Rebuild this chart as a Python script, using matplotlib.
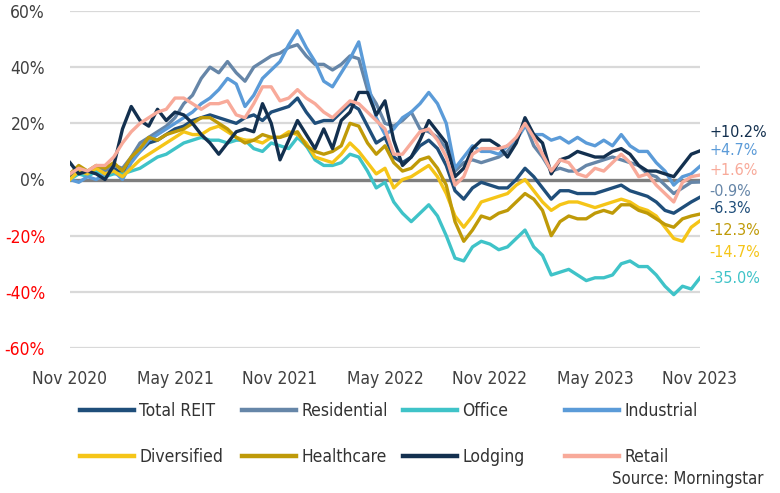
import numpy as np
import matplotlib
matplotlib.use("Agg")
import matplotlib.pyplot as plt
from matplotlib.lines import Line2D

plt.rcParams["font.family"] = ["DejaVu Sans"]
plt.rcParams["font.stretch"] = "condensed"

# ── Data: cumulative return (%) sampled every half month, Nov 2020 - Nov 2023 ──
tick_labels = ["Nov 2020", "May 2021", "Nov 2021", "May 2022",
               "Nov 2022", "May 2023", "Nov 2023"]

total_reit = [1, 3, 2, 4, 3, 4, 2, 7, 10, 13, 14, 16, 18, 19, 21, 22, 23, 22, 21, 20,
              22, 23, 21, 24, 25, 26, 29, 24, 20, 21, 21, 24, 27, 25, 19, 13, 15, 8, 6, 8,
              12, 14, 11, 5, -4, -7, -3, -1, -2, -3, -3, 0, 4, 1, -3, -7, -4, -4, -5, -5,
              -5, -4, -3, -2, -4, -5, -6, -8, -11, -12, -10, -8, -6.3]
residential = [0, 3, 2, 4, 3, 5, 4, 8, 13, 15, 17, 19, 22, 27, 30, 36, 40, 38, 42, 38,
               35, 40, 42, 44, 45, 47, 48, 44, 41, 41, 39, 41, 44, 43, 32, 27, 20, 19, 21, 24,
               18, 17, 15, 11, 3, 6, 7, 6, 7, 8, 10, 14, 20, 12, 8, 3, 4, 3, 3, 5,
               6, 7, 8, 7, 6, 5, 2, 1, -2, -5, -3, -1, -0.9]
office = [0, 2, 1, 3, 1, 2, 2, 3, 4, 6, 8, 9, 11, 13, 14, 15, 14, 14, 13, 14,
          14, 11, 10, 13, 12, 11, 15, 12, 7, 5, 5, 6, 9, 8, 3, -3, -1, -8, -12, -15,
          -12, -9, -13, -20, -28, -29, -24, -22, -23, -25, -24, -21, -18, -24, -27, -34, -33, -32, -34, -36,
          -35, -35, -34, -30, -29, -31, -31, -34, -38, -41, -38, -39, -35.0]
industrial = [0, -1, 1, 0, 2, 3, 0, 6, 10, 14, 16, 18, 20, 22, 24, 27, 29, 32, 36, 34,
              26, 30, 36, 39, 42, 48, 53, 47, 42, 35, 33, 38, 43, 49, 35, 22, 16, 18, 22, 24,
              27, 31, 27, 20, 4, 8, 12, 10, 10, 9, 12, 14, 19, 16, 16, 14, 15, 13, 15, 13,
              12, 14, 12, 16, 12, 10, 10, 6, 3, -2, 1, 2, 4.7]
diversified = [0, 3, 2, 4, 2, 3, 1, 4, 7, 9, 11, 13, 15, 17, 16, 16, 18, 19, 17, 15,
               14, 14, 13, 15, 15, 17, 16, 13, 8, 7, 6, 9, 13, 10, 6, 2, 4, -3, 0, 1,
               3, 5, 1, -5, -13, -17, -13, -8, -7, -6, -5, -2, 0, -4, -8, -11, -9, -8, -8, -9,
               -10, -9, -8, -7, -8, -10, -11, -13, -17, -21, -22, -17, -14.7]
healthcare = [2, 5, 3, 5, 4, 6, 3, 8, 11, 15, 14, 16, 17, 18, 20, 22, 22, 20, 18, 15,
              13, 14, 16, 15, 15, 16, 17, 12, 10, 9, 10, 12, 20, 19, 13, 9, 12, 6, 3, 4,
              7, 8, 4, -2, -15, -22, -18, -13, -14, -12, -11, -8, -5, -7, -11, -20, -15, -13, -14, -14,
              -12, -11, -12, -9, -9, -11, -12, -14, -16, -17, -14, -13, -12.3]
lodging = [6, 2, 3, 2, 0, 5, 18, 26, 21, 19, 25, 21, 24, 23, 20, 16, 13, 9, 13, 17,
           18, 17, 27, 20, 7, 14, 21, 16, 11, 18, 11, 21, 24, 31, 31, 23, 28, 14, 5, 8,
           14, 21, 17, 13, 1, 4, 11, 14, 14, 12, 8, 13, 22, 16, 13, 2, 7, 8, 10, 9,
           8, 8, 10, 11, 9, 5, 3, 3, 2, 1, 5, 9, 10.2]
retail = [2, 4, 3, 5, 5, 8, 13, 17, 20, 22, 24, 25, 29, 29, 27, 25, 27, 27, 28, 23,
          22, 27, 33, 33, 28, 29, 32, 29, 27, 24, 22, 25, 28, 27, 24, 21, 18, 9, 9, 13,
          17, 18, 14, 8, -2, 1, 9, 11, 11, 11, 12, 15, 20, 15, 9, 3, 7, 6, 2, 1,
          4, 3, 6, 9, 6, 1, 2, -2, -5, -8, -1, 1, 1.6]

names = ["Total REIT", "Residential", "Office", "Industrial",
         "Diversified", "Healthcare", "Lodging", "Retail"]
series = [total_reit, residential, office, industrial,
          diversified, healthcare, lodging, retail]
colors = ["#1f4e7a", "#6686a8", "#3fc3c8", "#5b9bd8",
          "#f5c518", "#bf9a08", "#13304f", "#f8aa9a"]

# end-label placement (y in %, spread so labels don't collide), in stacking order
label_order = ["Lodging", "Industrial", "Retail", "Residential",
               "Total REIT", "Healthcare", "Diversified", "Office"]
label_y = [16.8, 10.3, 3.2, -4.4, -10.5, -18.1, -26.0, -35.2]

months = np.arange(len(total_reit)) * 0.5

fig = plt.figure(figsize=(7.8, 4.93), dpi=100)
ax = fig.add_axes([70 / 780, 1 - 348 / 493, 630 / 780, 337 / 493])

for v in [-60, -40, -20, 20, 40, 60]:
    ax.axhline(v, color="#d9d9d9", lw=1.6, zorder=0)
ax.axhline(0, color="#7f7f7f", lw=2.4, zorder=0)

for name, vals, c in zip(names, series, colors):
    ax.plot(months, vals, color=c, lw=2.4, solid_joinstyle="round", label=name)

ax.set_xlim(0, 36)
ax.set_ylim(-60, 60)
ax.set_xticks(np.arange(0, 37, 6))
ax.set_xticklabels(tick_labels)
yt = np.arange(-60, 61, 20)
ax.set_yticks(yt)
ax.set_yticklabels([f"{v}%" for v in yt])
ax.tick_params(axis="both", length=0, labelsize=12.5, colors="#404040")
ax.tick_params(axis="y", pad=18)
ax.tick_params(axis="x", pad=16)
for lab, v in zip(ax.get_yticklabels(), yt):
    lab.set_color("#ff0000" if v < 0 else "#404040")
for s in ax.spines.values():
    s.set_visible(False)

# end-of-series value labels
for name, y in zip(label_order, label_y):
    k = names.index(name)
    last = series[k][-1]
    ax.text(36.55, y, f"{last:+.1f}%", color=colors[k], fontsize=11.5,
            va="center", ha="left", clip_on=False)

# legend: 4 columns x 2 rows, fixed column positions
cols = [(0, 4), (1, 5), (2, 6), (3, 7)]
col_x = [80, 242, 403, 565]
for (a, b), x0 in zip(cols, col_x):
    handles = [Line2D([], [], color=colors[a], lw=3.2),
               Line2D([], [], color=colors[b], lw=3.2)]
    fig.legend(handles, [names[a], names[b]], loc="center left",
               bbox_to_anchor=(x0 / 780, 1 - 434 / 493), frameon=False,
               fontsize=12.5, handlelength=3.1, handletextpad=0.3,
               borderpad=0, borderaxespad=0, labelspacing=1.6,
               labelcolor="#333333")

fig.text(763 / 780, 1 - 479 / 493, "Source: Morningstar", ha="right", va="center",
         fontsize=12, color="#333333")

fig.savefig("out.png", dpi=100)
